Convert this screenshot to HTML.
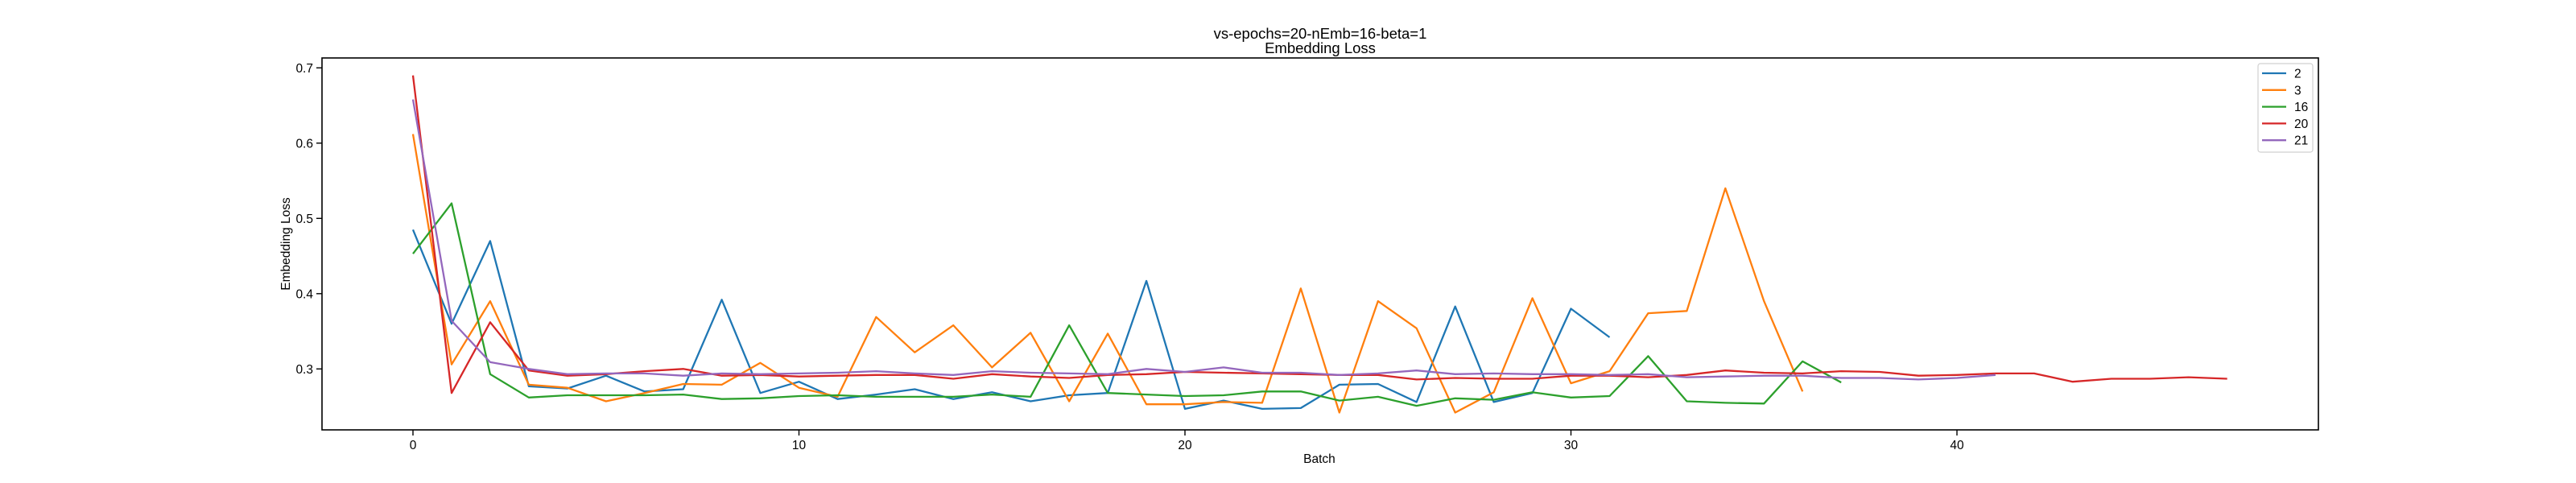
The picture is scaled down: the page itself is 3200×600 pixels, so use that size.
<!DOCTYPE html>
<html><head><meta charset="utf-8"><style>
html,body{margin:0;padding:0;background:#fff;}
svg{display:block;font-family:"Liberation Sans","DejaVu Sans",sans-serif;}
</style></head><body>
<svg id="chart" width="3200" height="600" viewBox="0 0 3200 600">
<text x="1640" y="48" font-size="18.5" text-anchor="middle">vs-epochs=20-nEmb=16-beta=1</text>
<text x="1640" y="66" font-size="18.5" text-anchor="middle">Embedding Loss</text>
<g id="xticks"></g>
<g id="yticks"></g>
<g id="series"></g>
<rect x="400" y="72" width="2480" height="462" fill="none" stroke="#000" stroke-width="1.6"/>
<text x="1639" y="575" font-size="15.5" text-anchor="middle">Batch</text>
<text x="0" y="0" font-size="15.5" text-anchor="middle" transform="translate(360,303) rotate(-90)">Embedding Loss</text>
<g id="legend"></g>
</svg>
<script>
const seriesNames = ["2","3","16","20","21"];
const seriesColors = ["#1f77b4","#ff7f0e","#2ca02c","#d62728","#9467bd"];
const s2 = [0.485,0.36,0.47,0.277,0.274,0.291,0.27,0.273,0.392,0.268,0.283,0.26,0.266,0.273,0.26,0.269,0.257,0.265,0.268,0.417,0.247,0.258,0.247,0.248,0.279,0.28,0.256,0.383,0.256,0.268,0.38,0.342];
const s3 = [0.612,0.306,0.39,0.279,0.275,0.257,0.268,0.28,0.279,0.308,0.275,0.263,0.369,0.322,0.358,0.302,0.348,0.257,0.347,0.253,0.253,0.256,0.255,0.407,0.242,0.39,0.354,0.242,0.269,0.394,0.281,0.297,0.374,0.377,0.54,0.39,0.27];
const s16 = [0.453,0.52,0.293,0.262,0.265,0.265,0.265,0.266,0.26,0.261,0.264,0.265,0.263,0.263,0.263,0.266,0.263,0.358,0.268,0.266,0.264,0.265,0.27,0.27,0.258,0.263,0.251,0.261,0.259,0.269,0.262,0.264,0.317,0.257,0.255,0.254,0.31,0.282];
const s20 = [0.69,0.268,0.362,0.298,0.291,0.293,0.297,0.3,0.291,0.292,0.29,0.291,0.292,0.292,0.287,0.293,0.29,0.288,0.292,0.293,0.296,0.295,0.294,0.293,0.292,0.292,0.286,0.288,0.287,0.287,0.291,0.291,0.289,0.292,0.298,0.295,0.294,0.297,0.296,0.291,0.292,0.294,0.294,0.283,0.287,0.287,0.289,0.287];
const s21 = [0.658,0.364,0.309,0.3,0.293,0.294,0.294,0.291,0.294,0.293,0.294,0.295,0.297,0.294,0.292,0.297,0.295,0.294,0.293,0.3,0.296,0.302,0.295,0.295,0.292,0.294,0.298,0.293,0.294,0.293,0.293,0.292,0.293,0.289,0.29,0.291,0.291,0.288,0.288,0.286,0.288,0.292];
const xTickValues = [0,10,20,30,40];
const yTickValues = [0.3,0.4,0.5,0.6,0.7];
const yTickLabels = ["0.3","0.4","0.5","0.6","0.7"];
const allSeries = [s2,s3,s16,s20,s21];

const NS = "http://www.w3.org/2000/svg";
function xs(i){ return 513 + 47.95*i; }
function ys(v){ return 458.3 - (v-0.3)*935; }

const xg = document.getElementById('xticks');
xTickValues.forEach(function(t){
  const l = document.createElementNS(NS,'line');
  l.setAttribute('x1',xs(t)); l.setAttribute('x2',xs(t)); l.setAttribute('y1',534); l.setAttribute('y2',541);
  l.setAttribute('stroke','#000'); l.setAttribute('stroke-width','1.4');
  
  
  xg.appendChild(l);
  const tx = document.createElementNS(NS,'text');
  tx.setAttribute('x',xs(t)); tx.setAttribute('y',558); tx.setAttribute('font-size','15.5'); tx.setAttribute('text-anchor','middle');
  tx.textContent = String(t);
  
  
  xg.appendChild(tx);
});
const yg = document.getElementById('yticks');
yTickValues.forEach(function(t,k){
  const l = document.createElementNS(NS,'line');
  l.setAttribute('x1',393); l.setAttribute('x2',400); l.setAttribute('y1',ys(t)); l.setAttribute('y2',ys(t));
  l.setAttribute('stroke','#000'); l.setAttribute('stroke-width','1.4');
  
  
  yg.appendChild(l);
  const tx = document.createElementNS(NS,'text');
  tx.setAttribute('x',389); tx.setAttribute('y',ys(t)+5.5); tx.setAttribute('font-size','15.5'); tx.setAttribute('text-anchor','end');
  tx.textContent = yTickLabels[k];
  
  
  yg.appendChild(tx);
});
const sg = document.getElementById('series');
allSeries.forEach(function(arr,k){
  const p = document.createElementNS(NS,'polyline');
  p.setAttribute('points', arr.map(function(v,i){ return xs(i).toFixed(1)+','+ys(v).toFixed(1); }).join(' '));
  p.setAttribute('fill','none'); p.setAttribute('stroke',seriesColors[k]); p.setAttribute('stroke-width','2.3');
  p.setAttribute('stroke-linejoin','round');
  
  
  sg.appendChild(p);
});
const lg = document.getElementById('legend');
const box = document.createElementNS(NS,'rect');
box.setAttribute('x',2805); box.setAttribute('y',79); box.setAttribute('width',68); box.setAttribute('height',110);
box.setAttribute('rx',3); box.setAttribute('fill','#fff'); box.setAttribute('stroke','#d0d0d0'); box.setAttribute('stroke-width','1.2');


lg.appendChild(box);
seriesNames.forEach(function(n,k){
  const y = 91 + k*20.8;
  const l = document.createElementNS(NS,'line');
  l.setAttribute('x1',2810); l.setAttribute('x2',2840); l.setAttribute('y1',y); l.setAttribute('y2',y);
  l.setAttribute('stroke',seriesColors[k]); l.setAttribute('stroke-width','2.3');
  
  
  lg.appendChild(l);
  const tx = document.createElementNS(NS,'text');
  tx.setAttribute('x',2850); tx.setAttribute('y',y+5.5); tx.setAttribute('font-size','15.5');
  tx.textContent = n;
  
  
  lg.appendChild(tx);
});
</script>
</body></html>
